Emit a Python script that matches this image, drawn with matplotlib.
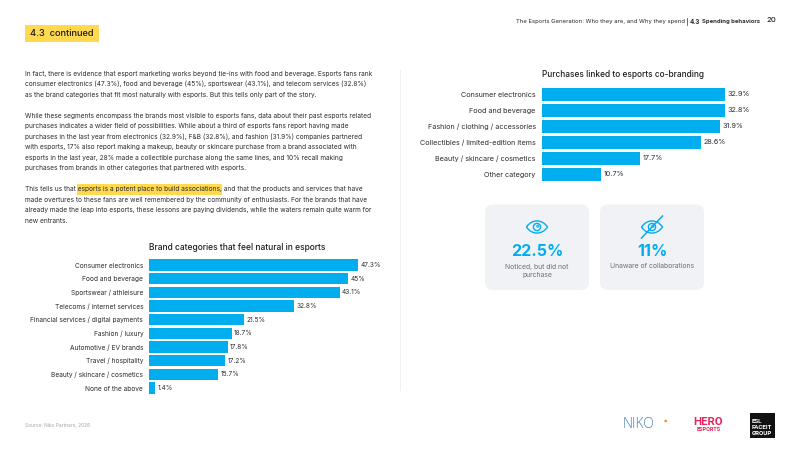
import matplotlib
matplotlib.use("Agg")
import matplotlib.pyplot as plt
from matplotlib.patches import Circle, FancyBboxPatch, PathPatch, Rectangle
from matplotlib.path import Path

plt.rcParams["font.family"] = ["Inter", "DejaVu Sans"]

natural_categories = [
    "Consumer electronics", "Food and beverage", "Sportswear / athleisure",
    "Telecoms / internet services", "Financial services / digital payments",
    "Fashion / luxury", "Automotive / EV brands", "Travel / hospitality",
    "Beauty / skincare / cosmetics", "None of the above",
]
natural_values = [47.3, 45, 43.1, 32.8, 21.5, 18.7, 17.8, 17.2, 15.7, 1.4]

purchase_categories = [
    "Consumer electronics", "Food and beverage", "Fashion / clothing / accessories",
    "Collectibles / limited-edition items", "Beauty / skincare / cosmetics",
    "Other category",
]
purchase_values = [32.9, 32.8, 31.9, 28.6, 17.7, 10.7]

body_lines = [
    (73.7, "In fact, there is evidence that esport marketing works beyond tie-ins with food and beverage. Esports fans rank"),
    (84.2, "consumer electronics (47.3%), food and beverage (45%), sportswear (43.1%), and telecom services (32.8%)"),
    (94.7, "as the brand categories that fit most naturally with esports. But this tells only part of the story."),
    (115.7, "While these segments encompass the brands most visible to esports fans, data about their past esports related"),
    (126.2, "purchases indicates a wider field of possibilities. While about a third of esports fans report having made"),
    (136.7, "purchases in the last year from electronics (32.9%), F&B (32.8%), and fashion (31.9%) companies partnered"),
    (147.2, "with esports, 17% also report making a makeup, beauty or skincare purchase from a brand associated with"),
    (157.7, "esports in the last year, 28% made a collectible purchase along the same lines, and 10% recall making"),
    (168.2, "purchases from brands in other categories that partnered with esports."),
    (189.4, "This tells us that esports is a potent place to build associations, and that the products and services that have"),
    (199.9, "made overtures to these fans are well remembered by the community of enthusiasts. For the brands that have"),
    (210.4, "already made the leap into esports, these lessons are paying dividends, while the waters remain quite warm for"),
    (220.9, "new entrants."),
]

BLUE = "#00AEEF"
YELLOW = "#FFD950"
INK = "#2B2B30"
W, H = 800, 449

fig = plt.figure(figsize=(W / 100, H / 100), dpi=100, facecolor="white")

# page layer in pixel coordinates, y running downward
page = fig.add_axes([0, 0, 1, 1])
page.set_xlim(0, W)
page.set_ylim(H, 0)
page.axis("off")


def label(x, y, s, size=4.72, color=INK, ha="left", weight="normal", **kw):
    return page.text(x, y, s, fontsize=size, color=color, ha=ha, va="center",
                     fontweight=weight, **kw)


def bar_chart(left, top, step, scale, cats, vals, x_max, size):
    n = len(cats)
    ax = fig.add_axes([left / W, 1 - (top + n * step) / H, x_max * scale / W, n * step / H])
    ax.barh(range(n), vals, height=0.82, color=BLUE)
    ax.set_xlim(0, x_max)
    ax.set_ylim(n - 0.5, -0.5)
    ax.set_yticks(range(n), cats, fontsize=size, color=INK)
    ax.set_xticks([])
    ax.tick_params(axis="y", length=0, pad=4.2)
    for side in ax.spines.values():
        side.set_visible(False)
    ax.patch.set_alpha(0)
    for i, v in enumerate(vals):
        ax.annotate(f"{v:g}%", (v, i), xytext=(1.7, 0), textcoords="offset points",
                    fontsize=size, color=INK, va="center")
    return ax


def eye(cx, cy, crossed=False):
    w, h = 10.5, 6.5
    outline = Path(
        [(cx - w, cy), (cx - 5, cy - h * 1.25), (cx + 5, cy - h * 1.25), (cx + w, cy),
         (cx + 5, cy + h * 1.25), (cx - 5, cy + h * 1.25), (cx - w, cy)],
        [Path.MOVETO, Path.CURVE4, Path.CURVE4, Path.CURVE4, Path.CURVE4, Path.CURVE4, Path.CURVE4],
    )
    page.add_patch(PathPatch(outline, fc="none", ec=BLUE, lw=1.0))
    page.add_patch(Circle((cx, cy), 3.6, fc="none", ec=BLUE, lw=1.0))
    page.add_patch(Circle((cx + 0.8, cy - 0.8), 1.1, fc="none", ec=BLUE, lw=0.7))
    if crossed:
        page.plot([cx - 10.5, cx + 10.5], [cy + 11, cy - 11], color=BLUE, lw=1.1)


# header
page.add_patch(Rectangle((25, 25), 74, 17, fc=YELLOW, ec="none"))
label(30, 33.7, "4.3  continued", size=6.7, color="#1A1A1A", weight="medium")
label(516.3, 21.5, "The Esports Generation: Who they are, and Why they spend", size=4.25)
page.plot([686.5, 686.5], [18, 25], color=INK, lw=0.5)
label(689.5, 21.5, "4.3", size=4.5, weight="bold")
label(702, 21.5, "Spending behaviors", size=4.25, weight="bold")
label(766, 20.5, "20", size=5.6, weight="medium")

# body copy
page.add_patch(Rectangle((77, 184), 145, 10.5, fc=YELLOW, ec="none"))
for y, line in body_lines:
    label(25, y, line)

# divider between the columns
page.plot([399.5, 399.5], [70, 390], color="#F0F0F2", lw=0.7)

# bar charts
label(149, 247, "Brand categories that feel natural in esports", size=6.05, color="#1F1F24", weight="medium")
bar_chart(149, 258.2, 13.67, 4.42, natural_categories, natural_values, 50, 4.72)

label(541.5, 74.5, "Purchases linked to esports co-branding", size=6.0, color="#1F1F24", weight="medium")
bar_chart(541.5, 86.5, 16, 5.59, purchase_categories, purchase_values, 40, 5.2)

# stat cards
for x0 in (485, 600):
    page.add_patch(FancyBboxPatch((x0 + 8, 212.5), 88, 69.5, boxstyle="round,pad=8,rounding_size=8",
                                  fc="#F1F2F6", ec="none"))
eye(537, 227)
eye(652, 227, crossed=True)
label(537, 252, "22.5%", size=11.6, color=BLUE, ha="center", weight="bold")
label(652, 252, "11%", size=11.6, color=BLUE, ha="center", weight="bold")
label(537, 266.5, "Noticed, but did not", size=4.9, color="#6E6E76", ha="center")
label(537, 275.3, "purchase", size=4.9, color="#6E6E76", ha="center")
label(652, 266.5, "Unaware of collaborations", size=4.9, color="#6E6E76", ha="center")

# footer
label(25, 426, "Source: Niko Partners, 2026", size=3.5, color="#A6A6AC")
label(622.5, 424.8, "NIKO", size=10, color="#4A7FB8", weight="light", family="Open Sans")
page.add_patch(Circle((665.7, 421), 1.3, fc="#F08A24", ec="none"))
label(708, 422.4, "HERO", size=8.2, color="#E8245C", ha="center", weight="bold", family="Roboto")
label(708.5, 429.7, "ESPORTS", size=4.0, color="#E8245C", ha="center", weight="bold", family="Roboto")
page.add_patch(Rectangle((750, 412.5), 25, 25, fc="#111111", ec="none"))
for y, word in ((421.5, "ESL"), (427.5, "FACEIT"), (433.5, "GROUP")):
    label(751.5, y, word, size=4.4, color="white", weight="bold", family="Roboto")

fig.savefig("out.png", dpi=100)
